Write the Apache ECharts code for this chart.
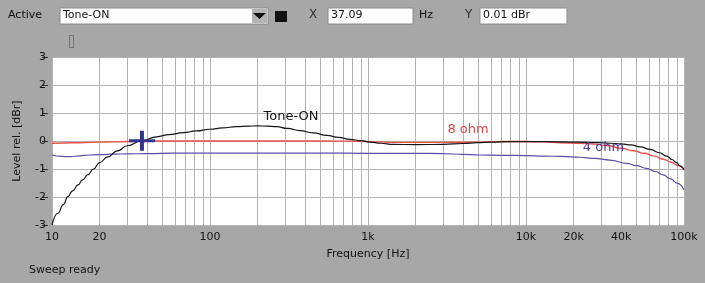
<!DOCTYPE html>
<html><head><meta charset="utf-8">
<script src="https://cdn.jsdelivr.net/npm/echarts@6/dist/echarts.min.js"></script>
<style>html,body{margin:0;padding:0;background:#a7a7a7;}#c{width:705px;height:283px;}</style>
</head><body><div id="c"></div>
<script>
// ---- data ----
const toneFreq  = [10, 10.9, 11.8, 12.6, 13.5, 14.6, 15.6, 16.8, 18.3, 20, 22.5, 26, 30, 37, 46, 55, 68, 82, 100, 120, 147, 175, 200, 230, 264, 310, 370, 450, 550, 650, 770, 900, 1030, 1200, 1450, 2000, 3000, 4000, 4900, 6000, 8000, 13000, 21000, 28000, 34000, 40000, 46000, 53000, 61000, 70000, 78000, 84000, 89000, 95000, 100000];
const toneLevel = [-3.0, -2.58, -2.27, -1.99, -1.78, -1.57, -1.39, -1.21, -1.0, -0.77, -0.57, -0.35, -0.17, 0.01, 0.15, 0.23, 0.30, 0.36, 0.42, 0.47, 0.51, 0.53, 0.54, 0.53, 0.51, 0.45, 0.37, 0.29, 0.20, 0.13, 0.06, 0.01, -0.04, -0.08, -0.12, -0.13, -0.12, -0.09, -0.06, -0.04, -0.02, -0.02, -0.04, -0.06, -0.08, -0.10, -0.14, -0.21, -0.30, -0.42, -0.54, -0.66, -0.76, -0.90, -1.03];
const ohm8Freq  = [10, 12, 15, 20, 25, 30, 40, 60, 100, 200, 500, 900, 1100, 1500, 3000, 5000, 7000, 10000, 13000, 16500, 22000, 27000, 33000, 40000, 48000, 56000, 65000, 74000, 83000, 91000, 100000];
const ohm8Level = [-0.08, -0.07, -0.06, -0.04, -0.03, -0.02, 0, 0, 0, 0, 0, -0.01, -0.03, -0.05, -0.05, -0.04, -0.02, -0.02, -0.03, -0.06, -0.08, -0.11, -0.17, -0.26, -0.35, -0.44, -0.54, -0.65, -0.76, -0.87, -1.02];
const ohm4Freq  = [10, 11.5, 13, 15, 17, 20, 25, 30, 40, 60, 100, 300, 500, 1000, 2000, 3000, 4000, 5000, 7000, 10000, 13000, 16500, 22000, 27000, 34000, 43500, 50000, 58000, 66000, 74000, 82000, 91000, 100000];
const ohm4Level = [-0.5, -0.55, -0.56, -0.53, -0.5, -0.49, -0.47, -0.46, -0.45, -0.43, -0.43, -0.43, -0.43, -0.44, -0.44, -0.45, -0.48, -0.5, -0.51, -0.52, -0.54, -0.55, -0.58, -0.62, -0.68, -0.8, -0.88, -0.98, -1.09, -1.21, -1.35, -1.51, -1.75];
const xTickValues = [10, 20, 100, 1000, 10000, 20000, 40000, 100000];
const yTickValues = [-3, -2, -1, 0, 1, 2, 3];
const cursorPoint = [37.09, 0.01];
const seriesNames = ['Tone-ON', '8 ohm', '4 ohm'];
const labelPoints = [[326, 0.86], [4300, 0.41], [30900, -0.25]];
// vertical grid at 1..9 x each decade
const gridFreqs = [];
for (let d = 10; d <= 10000; d *= 10) { for (let m = 1; m <= 9; m++) gridFreqs.push(d * m); }
gridFreqs.push(100000);

const zip = (a, b) => a.map((v, i) => [v, b[i]]);
const FONT = 'DejaVu Sans';
const chart = echarts.init(document.getElementById('c'), null, {renderer: 'canvas'});

const option = {
  backgroundColor: '#a7a7a7',
  animation: false,
  textStyle: {fontFamily: FONT},
  grid: {left: 52, top: 57, width: 632, height: 168, show: true, backgroundColor: '#ffffff', borderWidth: 0},
  xAxis: {
    type: 'log', logBase: 10, min: 10, max: 100000,
    name: 'Frequency [Hz]', nameLocation: 'middle', nameGap: 24,
    nameTextStyle: {color: '#111', fontSize: 11, fontFamily: FONT},
    axisLine: {show: false},
    axisTick: {show: true, length: 5, customValues: xTickValues, lineStyle: {color: '#333'}},
    axisLabel: {customValues: xTickValues, color: '#111', fontSize: 11, fontFamily: FONT, margin: 7,
      showMinLabel: true, showMaxLabel: true,
      formatter: v => v >= 1000 ? (Math.round(v / 1000) + 'k') : String(Math.round(v))},
    splitLine: {show: false}, minorTick: {show: false}
  },
  yAxis: {
    type: 'value', min: -3, max: 3, interval: 1, offset: 4,
    name: 'Level rel. [dBr]', nameLocation: 'middle', nameGap: 25, nameRotate: 90,
    nameTextStyle: {color: '#111', fontSize: 11, fontFamily: FONT},
    axisLine: {show: false},
    axisTick: {show: true, length: 6, lineStyle: {color: '#333'}},
    axisLabel: {color: '#111', fontSize: 11, fontFamily: FONT, margin: 2},
    splitLine: {show: true, lineStyle: {color: '#b3b3b3', width: 1}}
  },
  series: [
    {
      name: seriesNames[0], type: 'line', data: zip(toneFreq, toneLevel), showSymbol: false, symbol: 'none',
      smooth: 0.5, smoothMonotone: 'x', z: 3,
      lineStyle: {color: '#151515', width: 1.2},
      markLine: {
        silent: true, symbol: ['none', 'none'], z: 1, animation: false,
        label: {show: false},
        lineStyle: {color: '#b3b3b3', width: 1, type: 'solid'},
        emphasis: {disabled: true},
        data: gridFreqs.map(f => ({xAxis: f}))
      },
      markPoint: {
        silent: true, animation: false,
        data: [
          {coord: cursorPoint, symbol: 'path://M0,8.5 H11 V0 H15 V8.5 H26 V11.5 H15 V20 H11 V11.5 H0 Z', symbolSize: [26, 20],
            itemStyle: {color: '#33338c'}, label: {show: false}},
          {coord: labelPoints[0], symbol: 'circle', symbolSize: 0,
            label: {show: true, position: 'inside', formatter: seriesNames[0], color: '#151515', fontSize: 13, fontFamily: FONT}}
        ]
      }
    },
    {
      name: seriesNames[1], type: 'line', data: zip(ohm8Freq, ohm8Level), showSymbol: false, symbol: 'none',
      smooth: 0.5, smoothMonotone: 'x', z: 2,
      lineStyle: {color: '#e8524a', width: 1.4},
      markPoint: {silent: true, animation: false, data: [
        {coord: labelPoints[1], symbol: 'circle', symbolSize: 0,
          label: {show: true, position: 'inside', formatter: seriesNames[1], color: '#e2483f', fontSize: 13, fontFamily: FONT}}
      ]}
    },
    {
      name: seriesNames[2], type: 'line', data: zip(ohm4Freq, ohm4Level), showSymbol: false, symbol: 'none',
      smooth: 0.5, smoothMonotone: 'x', z: 2,
      lineStyle: {color: '#5a4ea6', width: 1.2},
      markPoint: {silent: true, animation: false, data: [
        {coord: labelPoints[2], symbol: 'circle', symbolSize: 0,
          label: {show: true, position: 'inside', formatter: seriesNames[2], color: '#473c9c', fontSize: 13, fontFamily: FONT}}
      ]}
    }
  ],
  graphic: [
    {type: 'text', left: 8, top: 10, style: {text: 'Active', fill: '#111', font: '11px "DejaVu Sans"'}},
    {type: 'rect', shape: {x: 60, y: 8, width: 208, height: 16}, style: {fill: '#ffffff', stroke: '#8c8c8c', lineWidth: 1}},
    {type: 'rect', shape: {x: 252, y: 9, width: 15, height: 14}, style: {fill: '#b4b4b4'}},
    {type: 'polygon', shape: {points: [[253, 13], [266, 13], [259.5, 19]]}, style: {fill: '#111'}},
    {type: 'text', left: 63, top: 10, style: {text: seriesNames[0], fill: '#111', font: '11px "DejaVu Sans"'}},
    {type: 'rect', shape: {x: 275, y: 11, width: 12, height: 11}, style: {fill: '#111'}},
    {type: 'text', left: 309, top: 9, style: {text: 'X', fill: '#333', font: '12px "DejaVu Sans"'}},
    {type: 'rect', shape: {x: 328, y: 8, width: 85, height: 16}, style: {fill: '#ffffff', stroke: '#8c8c8c', lineWidth: 1}},
    {type: 'text', left: 331, top: 10, style: {text: '37.09', fill: '#111', font: '11px "DejaVu Sans"'}},
    {type: 'text', left: 419, top: 10, style: {text: 'Hz', fill: '#111', font: '11px "DejaVu Sans"'}},
    {type: 'text', left: 465, top: 9, style: {text: 'Y', fill: '#333', font: '12px "DejaVu Sans"'}},
    {type: 'rect', shape: {x: 480, y: 8, width: 87, height: 16}, style: {fill: '#ffffff', stroke: '#8c8c8c', lineWidth: 1}},
    {type: 'text', left: 483, top: 10, style: {text: '0.01 dBr', fill: '#111', font: '11px "DejaVu Sans"'}},
    {type: 'rect', shape: {x: 69.5, y: 35.5, width: 4, height: 12}, style: {fill: 'none', stroke: '#444', lineWidth: 1, lineDash: [1, 1]}},
    {type: 'text', left: 29, top: 265, style: {text: 'Sweep ready', fill: '#111', font: '11px "DejaVu Sans"'}}
  ]
};
chart.setOption(option);
</script>
</body></html>
